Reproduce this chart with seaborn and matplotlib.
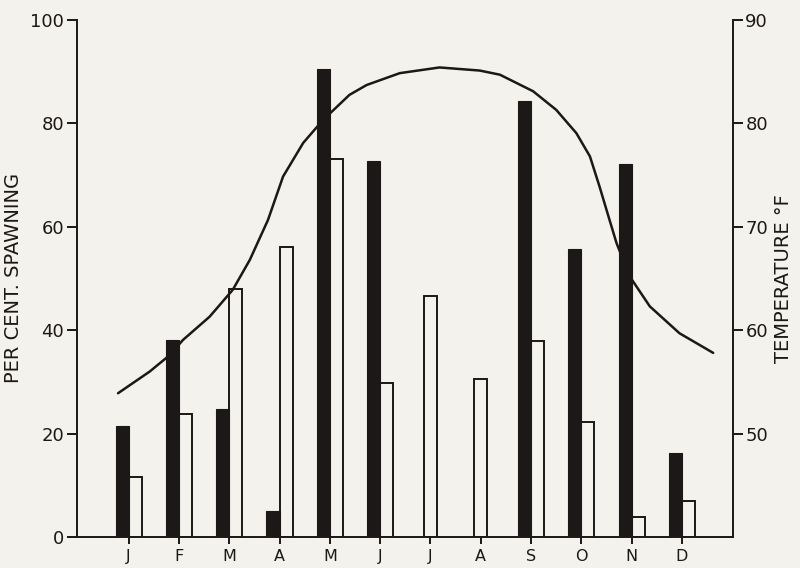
import numpy as np
import pandas as pd
import matplotlib
matplotlib.use("Agg")
import matplotlib.pyplot as plt
import seaborn as sns

# monthly spawning percentages (black = one series, white = other)
months = ["J", "F", "M", "A", "M", "J", "J", "A", "S", "O", "N", "D"]
black_pct = [21.5, 38.0, 24.7, 5.0, 90.5, 72.8, 0, 0, 84.3, 55.7, 72.2, 16.2]
white_pct = [11.6, 23.8, 48.0, 56.0, 73.0, 29.8, 46.6, 30.5, 37.9, 22.3, 3.9, 6.9]

# temperature curve, x in month units (0 = January)
temp_x = [-0.21, 0.42, 0.82, 1.08, 1.61, 2.07, 2.41, 2.77, 3.07, 3.47, 3.86,
          4.39, 4.73, 5.39, 6.18, 6.98, 7.38, 8.04, 8.50, 8.90, 9.17, 9.36,
          9.56, 9.70, 9.96, 10.36, 10.95, 11.62]
temp_f = [53.9, 56.0, 57.6, 59.05, 61.3, 63.9, 66.8, 70.65, 74.85, 78.1, 80.3,
          82.75, 83.7, 84.85, 85.4, 85.1, 84.7, 83.1, 81.3, 79.05, 76.8, 73.9,
          70.65, 68.4, 65.2, 62.3, 59.7, 57.8]

bg = "#f4f2ec"
ink = "#1c1818"

sns.set_style("ticks")
plt.rcParams["font.family"] = ["DejaVu Sans"]

fig = plt.figure(figsize=(8, 5.68), dpi=100, facecolor=bg)
ax = fig.add_axes([0.096, 0.0546, 0.82, 0.9104])
ax.set_facecolor(bg)

idx = np.arange(len(months))
w = 0.26
black = np.array(black_pct)
white = np.array(white_pct)
# white bar sits next to the black one, or centred when there is no black bar
white_off = np.where(black > 0, w / 2, 0.0)

ax.bar(idx - w / 2, black, width=w, color=ink, edgecolor=ink, linewidth=0.8, zorder=3)
ax.bar(idx + white_off, white, width=w, color=bg, edgecolor=ink, linewidth=1.4, zorder=2)

ax.set_xlim(-1.03, 12.01)
ax.set_ylim(0, 100)
ax.set_yticks([0, 20, 40, 60, 80, 100])
ax.set_xticks(idx)
ax.set_xticklabels(months)
ax.set_ylabel("PER CENT. SPAWNING", fontsize=14, color=ink, labelpad=5)

ax2 = ax.twinx()
curve = pd.DataFrame({"x": temp_x, "t": temp_f})
sns.lineplot(data=curve, x="x", y="t", ax=ax2, color=ink, linewidth=1.8, sort=False,
             zorder=4, solid_joinstyle="round", solid_capstyle="round")
ax2.set_ylim(40, 90)
ax2.set_yticks([50, 60, 70, 80, 90])
ax2.set_xlim(-1.03, 12.01)
ax2.set_xlabel("")
ax2.set_ylabel("TEMPERATURE °F", fontsize=14, color=ink, labelpad=4)

for a in (ax, ax2):
    a.spines["top"].set_visible(False)
    for s in a.spines.values():
        s.set_linewidth(1.4)
        s.set_color(ink)
ax.spines["right"].set_visible(False)
ax2.spines["left"].set_visible(False)
ax2.spines["bottom"].set_visible(False)

ax.tick_params(axis="y", length=7, width=1.4, labelsize=13, colors=ink, pad=2)
ax.tick_params(axis="x", length=5, width=1.4, labelsize=11.5, colors=ink, pad=4)
ax2.tick_params(axis="y", length=7, width=1.4, labelsize=13, colors=ink, pad=2)

fig.savefig("out.png", dpi=100, facecolor=bg)
